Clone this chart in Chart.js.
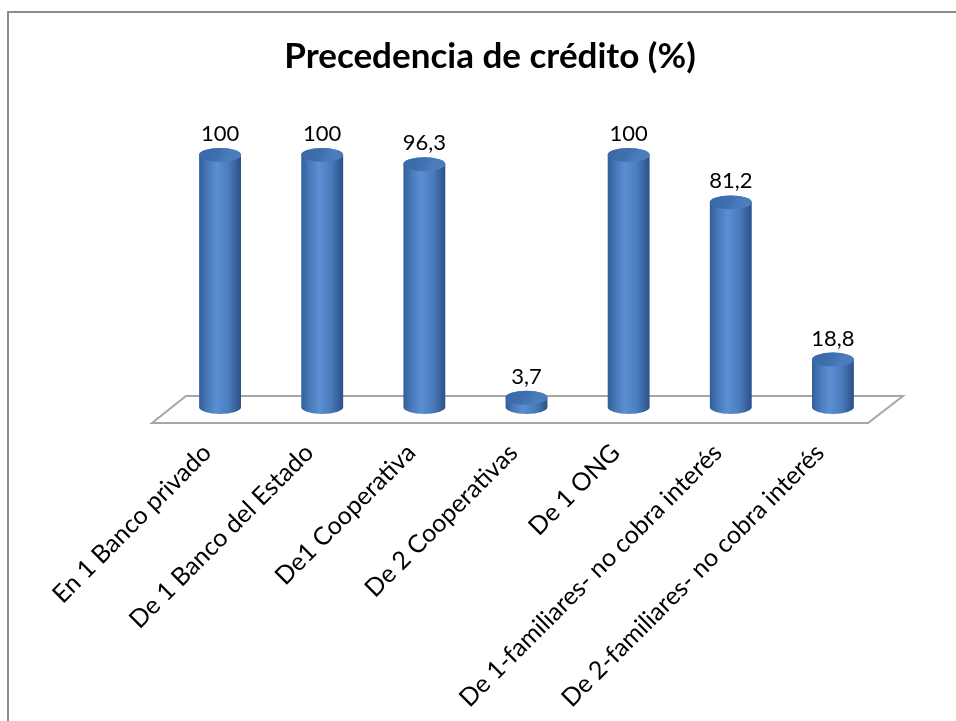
<!DOCTYPE html>
<html><head><meta charset="utf-8">
<script src="https://cdn.jsdelivr.net/npm/chart.js@4.4.1/dist/chart.umd.min.js"></script>
<style>html,body{margin:0;padding:0;background:#fff;} canvas{display:block;}</style>
</head><body>
<canvas id="c" width="956" height="721"></canvas>
<script>
const categories = ["En 1 Banco privado", "De 1 Banco del Estado", "De1 Cooperativa", "De 2 Cooperativas", "De 1 ONG", "De 1-familiares- no cobra interés", "De 2-familiares- no cobra interés"];
const values = [100, 100, 96.3, 3.7, 100, 81.2, 18.8];
const valueLabels = ["100", "100", "96,3", "3,7", "100", "81,2", "18,8"];
const chartTitle = "Precedencia de crédito (%)";

const FONT = "Lato, 'Open Sans', sans-serif";
const RY = 7;

function drawCylinder(ctx, x, yTop, yBase, w) {
  const rx = w / 2;
  const g = ctx.createLinearGradient(x - rx, 0, x + rx, 0);
  g.addColorStop(0, '#325E99');
  g.addColorStop(0.18, '#4777B7');
  g.addColorStop(0.42, '#5B8FD2');
  g.addColorStop(0.7, '#4A7DBE');
  g.addColorStop(1, '#2C5086');
  ctx.beginPath();
  ctx.moveTo(x - rx, yTop);
  ctx.lineTo(x - rx, yBase);
  ctx.ellipse(x, yBase, rx, RY, 0, Math.PI, 0, true);
  ctx.lineTo(x + rx, yTop);
  ctx.ellipse(x, yTop, rx, RY, 0, 0, Math.PI, true);
  ctx.closePath();
  ctx.fillStyle = g;
  ctx.fill();
  const tg = ctx.createLinearGradient(x - rx, yTop - RY, x + rx * 0.3, yTop + RY);
  tg.addColorStop(0, '#3A69A7');
  tg.addColorStop(0.6, '#3E6EAD');
  tg.addColorStop(1, '#4B7DBD');
  ctx.beginPath();
  ctx.ellipse(x, yTop, rx, RY, 0, 0, Math.PI * 2);
  ctx.fillStyle = tg;
  ctx.fill();
}

const deco = {
  id: 'deco',
  beforeDatasetsDraw(chart) {
    const ctx = chart.ctx;
    const y0 = chart.scales.y.getPixelForValue(0);
    const { left, right } = chart.chartArea;
    ctx.save();
    ctx.strokeStyle = '#A6A6A6';
    ctx.lineWidth = 2;
    ctx.beginPath();
    ctx.moveTo(left + 17, y0 - 11);
    ctx.lineTo(right + 19, y0 - 11);
    ctx.lineTo(right - 16, y0 + 16);
    ctx.lineTo(left - 17, y0 + 16);
    ctx.closePath();
    ctx.stroke();
    ctx.restore();
  },
  afterDatasetsDraw(chart) {
    const ctx = chart.ctx;
    const meta = chart.getDatasetMeta(0);
    ctx.save();
    meta.data.forEach((el, i) => {
      const p = el.getProps(['x', 'y', 'base', 'width'], true);
      drawCylinder(ctx, p.x, p.y, p.base, p.width);
      ctx.fillStyle = '#000';
      ctx.font = "22px " + FONT;
      ctx.textAlign = 'center';
      ctx.textBaseline = 'alphabetic';
      ctx.fillText(valueLabels[i], p.x, p.y - RY - 7);
    });
    ctx.restore();
  },
  afterDraw(chart) {
    const ctx = chart.ctx;
    ctx.save();
    ctx.fillStyle = '#000';
    ctx.font = "bold 35px " + FONT;
    ctx.textAlign = 'center';
    ctx.textBaseline = 'middle';
    ctx.fillText(chartTitle, 490, 57);
    ctx.strokeStyle = '#8C8C8C';
    ctx.lineWidth = 2;
    ctx.strokeRect(8, 12, 1000, 1000);
    ctx.restore();
  }
};

new Chart(document.getElementById('c'), {
  type: 'bar',
  data: {
    labels: categories,
    datasets: [{
      data: values,
      backgroundColor: 'rgba(0,0,0,0)',
      borderWidth: 0,
      categoryPercentage: 1,
      barPercentage: 0.41
    }]
  },
  options: {
    responsive: false,
    animation: false,
    layout: { padding: { left: 169, right: 72, top: 155, bottom: 0 } },
    plugins: { legend: { display: false }, tooltip: { enabled: false }, title: { display: false } },
    scales: {
      y: { display: false, min: 0, max: 100 },
      x: {
        grid: { display: false, drawTicks: false },
        border: { display: false },
        ticks: {
          autoSkip: false, maxRotation: 45, minRotation: 45, padding: 31, labelOffset: -13,
          color: '#000', font: { family: FONT, size: 25 }
        },
        afterFit(s) { s.height = 314; }
      }
    }
  },
  plugins: [deco]
});
</script>
</body></html>
